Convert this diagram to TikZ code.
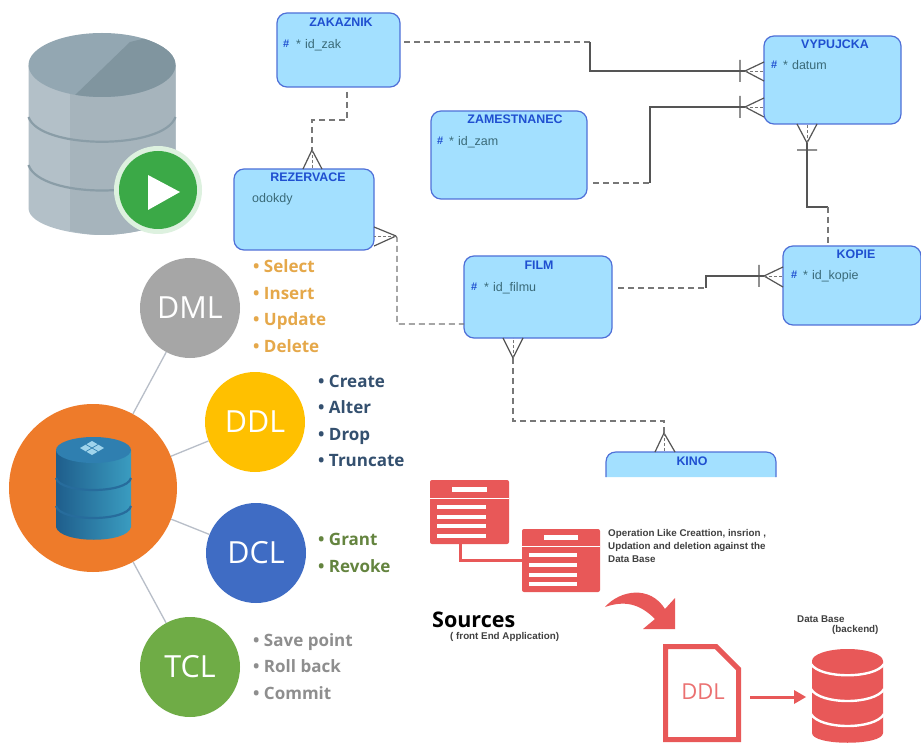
\documentclass[tikz,border=0pt]{standalone}
\usepackage{fontspec}
\setmainfont{Liberation Sans}
\newfontfamily\openf{Open Sans}
\usetikzlibrary{calc}
\definecolor{entfill}{HTML}{A3E0FF}
\definecolor{entline}{HTML}{4F70D8}
\definecolor{enttitle}{HTML}{1F4FD0}
\definecolor{enttext}{HTML}{3A6A78}
\definecolor{conn}{HTML}{555555}
\definecolor{redd}{HTML}{E85858}
\definecolor{gbodyL}{HTML}{B3C0C8}
\definecolor{gbodyR}{HTML}{A6B4BC}
\definecolor{gtopL}{HTML}{93A7B2}
\definecolor{gtopR}{HTML}{80959F}
\definecolor{gband}{HTML}{8A9DA7}
\definecolor{playg}{HTML}{3BA947}
\definecolor{playr}{HTML}{DDF1DF}
\definecolor{coreo}{HTML}{EE7B2A}
\definecolor{hubA}{HTML}{A6A6A6}
\definecolor{hubB}{HTML}{FFC000}
\definecolor{hubC}{HTML}{3F6CC4}
\definecolor{hubD}{HTML}{6FAC46}
\definecolor{spokec}{HTML}{B8BEC8}
\definecolor{dbL}{HTML}{1F5E8C}
\definecolor{dbR}{HTML}{3A9CC0}
\definecolor{dbT}{HTML}{2F7FB0}
\definecolor{dbB}{HTML}{276C9C}
\definecolor{dbI}{HTML}{9FD4EC}
\definecolor{itA}{HTML}{E5A84A}
\definecolor{itB}{HTML}{34506F}
\definecolor{itC}{HTML}{64843F}
\definecolor{itD}{HTML}{8E8E8E}
\tikzset{
 entity/.style={draw=entline,line width=1.2pt,fill=entfill,rounded corners=10pt,inner sep=0pt},
 etitle/.style={font=\bfseries\fontsize{12.4}{14}\selectfont,text=enttitle,inner sep=0pt},
 eattr/.style={font=\fontsize{12.5}{14}\selectfont,text=enttext,inner sep=0pt,anchor=base west},
 hash/.style={font=\bfseries\fontsize{11}{14}\selectfont,text=enttitle,inner sep=0pt,anchor=base west},
 dashl/.style={draw=conn!80,line width=1.2pt,dash pattern=on 6pt off 4pt},
 solidl/.style={draw=conn,line width=1.2pt},
 foot/.style={draw=conn,line width=1.2pt},
 footd/.style={draw=conn!80,line width=.8pt,dash pattern=on 3pt off 2pt},
 hub/.style={circle,minimum size=100pt,inner sep=0pt,text=white,font=\openf\fontsize{30.5}{33}\selectfont},
 spoke/.style={draw=spokec,line width=1.3pt},
 item/.style={anchor=base west,inner sep=0pt,font=\openf\bfseries\fontsize{17}{19}\selectfont},
 small/.style={anchor=base west,inner sep=0pt,font=\bfseries\fontsize{9.8}{13}\selectfont,text=black!75},
 wline/.style={fill=white,draw=none},
 redwin/.style={fill=redd,draw=none,rounded corners=2pt},
}
\begin{document}
\begin{tikzpicture}[x=1pt,y=-1pt]
\useasboundingbox[fill=white] (0,0) rectangle (921,743);
% ---- big grey database ----
\fill[gbodyL] (28.5,65) -- (175.5,65) -- (175.5,208) .. controls (175.5,226) and (130,235) .. (102,235) .. controls (74,235) and (28.5,226) .. (28.5,208) -- cycle;
\fill[gbodyR] (70,90) -- (175.5,65) -- (175.5,208) .. controls (175.5,226) and (130,235) .. (102,235) .. controls (90,235) and (80,233) .. (70,231) -- cycle;
\draw[gband,line width=2.2pt] (28.5,117) .. controls (40,150) and (164,150) .. (175.5,117);
\draw[gband,line width=2.2pt] (28.5,165) .. controls (40,199) and (164,199) .. (175.5,165);
\fill[gtopL] (102,65) ellipse [x radius=73.5,y radius=32];
\begin{scope}
\clip (102,65) ellipse [x radius=73.5,y radius=32];
\fill[gtopR] (72,98) -- (130,42) -- (180,30) -- (180,98) -- cycle;
\end{scope}
\node[circle,minimum size=88pt,inner sep=0pt,fill=playr,draw=none] (playring) at (158,190) {};
\node[circle,minimum size=78pt,inner sep=0pt,fill=playg,draw=none] (play) at (158,190) {};
\fill[white] (148,175) -- (180,192) -- (148,210) -- cycle;
% ---- hubs ----
\node[circle,minimum size=168pt,inner sep=0pt,fill=coreo] (core) at (93,488) {};
\node[hub,fill=hubA] (dml) at (190,308) {DML};
\node[hub,fill=hubB] (ddl) at (255,422) {DDL};
\node[hub,fill=hubC] (dcl) at (256,553) {DCL};
\node[hub,fill=hubD] (tcl) at (190,667) {TCL};
\draw[spoke] (core) -- (dml);
\draw[spoke] (core) -- (ddl);
\draw[spoke] (core) -- (dcl);
\draw[spoke] (core) -- (tcl);
% inner database
\shade[left color=dbL,right color=dbR] (56,450) -- (131,450) -- (131,527) .. controls (128,544) and (60,544) .. (56,527) -- cycle;
\draw[dbB,line width=2.2pt] (56,478) .. controls (60,494) and (127,494) .. (131,478);
\draw[dbB,line width=2.2pt] (56,506) .. controls (60,522) and (127,522) .. (131,506);
\fill[dbT] (93.5,450) ellipse [x radius=37.5,y radius=13];
\fill[dbI] (92,441) -- (104,448) -- (92,455) -- (80,448) -- cycle;
\draw[dbT,line width=.7pt] (86,444.5) -- (98,451.5) (98,444.5) -- (86,451.5);
% lists
\node[item,text=itA] (s1) at (253,273) {• Select};
\node[item,text=itA] (s2) at (253,299.5) {• Insert};
\node[item,text=itA] (s3) at (253,326) {• Update};
\node[item,text=itA] (s4) at (253,352.5) {• Delete};
\node[item,text=itB] (c1) at (318,387) {• Create};
\node[item,text=itB] (c2) at (318,413.5) {• Alter};
\node[item,text=itB] (c3) at (318,440) {• Drop};
\node[item,text=itB] (c4) at (318,466.5) {• Truncate};
\node[item,text=itC] (g1) at (318,545.5) {• Grant};
\node[item,text=itC] (g2) at (318,572) {• Revoke};
\node[item,text=itD] (v1) at (253,646) {• Save point};
\node[item,text=itD] (v2) at (253,672.5) {• Roll back};
\node[item,text=itD] (v3) at (253,699) {• Commit};
% ---- entities ----
\node[entity,minimum width=123pt,minimum height=74pt] (zak) at (338.5,50) {};
\node[entity,minimum width=140pt,minimum height=81pt] (rez) at (304,209.5) {};
\node[entity,minimum width=156pt,minimum height=88pt] (zam) at (509,155) {};
\node[entity,minimum width=137pt,minimum height=88pt] (vyp) at (832.5,80) {};
\node[entity,minimum width=138pt,minimum height=79pt] (kop) at (852,285.5) {};
\node[entity,minimum width=148pt,minimum height=82pt] (fil) at (538,297) {};
\path[fill=entfill,draw=none] (606,477) -- (606,462) .. controls (606,456) and (610,452) .. (616,452) -- (766,452) .. controls (772,452) and (776,456) .. (776,462) -- (776,477) -- cycle;
\draw[entline,line width=1.2pt] (606,477) -- (606,462) .. controls (606,456) and (610,452) .. (616,452) -- (766,452) .. controls (772,452) and (776,456) .. (776,462) -- (776,477);
\node[etitle] (tzak) at (341,22) {ZAKAZNIK};
\node[etitle] (trez) at (308,177) {REZERVACE};
\node[etitle] (tzam) at (515,119) {ZAMESTNANEC};
\node[etitle] (tvyp) at (835,44) {VYPUJCKA};
\node[etitle] (tkop) at (856,254) {KOPIE};
\node[etitle] (tfil) at (539,265) {FILM};
\node[etitle] (tkin) at (692,461) {KINO};
\node[hash] (hz) at (283,48) {\#}; \node[eattr] (az) at (296,49) {*\hspace{4pt}id\_zak};
\node[eattr] (ar) at (252,203) {odokdy};
\node[hash] (hm) at (437,145) {\#}; \node[eattr] (am) at (449,146) {*\hspace{4pt}id\_zam};
\node[hash] (hv) at (771,69) {\#}; \node[eattr] (av) at (783,70) {*\hspace{4pt}datum};
\node[hash] (hk) at (791,279) {\#}; \node[eattr] (ak) at (803,280) {*\hspace{4pt}id\_kopie};
\node[hash] (hf) at (471,291) {\#}; \node[eattr] (af) at (484,292) {*\hspace{4pt}id\_filmu};
% ---- connector points ----
\coordinate (zakE) at (404,42);
\coordinate (b1) at (590,42);
\coordinate (vf1) at (745,71);
\coordinate (zamE) at (593,183);
\coordinate (b2) at (650,183);
\coordinate (vf2) at (745,107);
\coordinate (vf3) at (807,143);
\coordinate (b3) at (828,207);
\coordinate (kopN) at (828,243);
\coordinate (filE) at (618,288);
\coordinate (b4) at (706,288);
\coordinate (kf) at (764,276);
\coordinate (zakS) at (347,92);
\coordinate (b5) at (347,120);
\coordinate (rf) at (312,150);
\coordinate (ff) at (396,236);
\coordinate (filW) at (464,324);
\coordinate (ffb) at (513,358);
\coordinate (b7) at (513,421);
\coordinate (kif) at (664,433);
% ---- connectors ----
\draw[dashl] (zakE) -- (b1);
\draw[solidl] (b1) |- (vf1);
\draw[dashl] (zamE) -- (b2);
\draw[solidl] (b2) |- (vf2);
\draw[solidl] (vf3) |- (b3);
\draw[dashl] (b3) -- (kopN);
\draw[dashl] (filE) -- (b4);
\draw[solidl] (b4) |- (kf);
\draw[dashl] (zakS) -- (b5) -| (rf);
\draw[dashl] (ff) -- ($(ff)+(1,2)$) |- (filW);
\draw[dashl] (ffb) -- (b7) -| (kif);
% crow's feet
\draw[foot] (vf1) -- ++(19,-9) (vf1) -- ++(19,10) (vf1) ++(-5,-11) -- ++(0,22);
\draw[footd] (vf1) -- ++(19,0);
\draw[foot] (vf2) -- ++(19,-9) (vf2) -- ++(19,10) (vf2) ++(-5,-11) -- ++(0,22);
\draw[footd] (vf2) -- ++(19,0);
\draw[foot] (vf3) -- ++(-10,-19) (vf3) -- ++(10,-19) (vf3) ++(-10,7) -- ++(20,0);
\draw[footd] (vf3) -- ++(0,-19);
\draw[foot] (kf) -- ++(19,-9) (kf) -- ++(19,11) (kf) ++(-5,-11) -- ++(0,22);
\draw[footd] (kf) -- ++(19,0);
\draw[foot] (rf) -- ++(-9,19) (rf) -- ++(10,19);
\draw[footd] (rf) -- ++(0,19);
\draw[foot] (ff) -- ++(-22,-9) (ff) -- ++(-22,10);
\draw[footd] (ff) -- ++(-22,0);
\draw[foot] (ffb) -- ++(-10,-20) (ffb) -- ++(10,-20);
\draw[footd] (ffb) -- ++(0,-20);
\draw[foot] (kif) -- ++(-9,19) (kif) -- ++(11,19);
\draw[footd] (kif) -- ++(0,19);
% ---- red sources ----
\node[redwin,minimum width=79pt,minimum height=64pt,inner sep=0pt] (w1) at (469.5,512) {};
\node[redwin,minimum width=78pt,minimum height=63pt,inner sep=0pt] (w2) at (561,560.5) {};
\draw[redd,line width=3.5pt] (w1.south) ++(-9,0) |- (w2.west);
\fill[wline] (452,487) rectangle (487,492);
\fill[wline] (430,497.5) rectangle (509,499);
\foreach \yy in {507,516.5,526,535.5} \fill[wline] (437,\yy-2) rectangle (486,\yy+2);
\fill[wline] (544,535) rectangle (578,540);
\fill[wline] (522,545.5) rectangle (600,547);
\foreach \yy in {555,565,574.5,584} \fill[wline] (529,\yy-2) rectangle (577,\yy+2);
\fill[redd] (605,607) .. controls (620,590) and (650,585) .. (665,609) -- (675,598) -- (675,629) -- (643,629) -- (655,619) .. controls (640,604) and (625,600) .. (605,607) -- cycle;
\node[small] (opt) at (608,536.5) {Operation Like Creattion, insrion ,};
\node[small] (opt2) at (608,549.5) {Updation and deletion against the};
\node[small] (opt3) at (608,562.5) {Data Base};
\node[anchor=base west,inner sep=0pt,font=\openf\bfseries\fontsize{21.5}{24}\selectfont,text=black] (src) at (432,627) {Sources};
\node[small] (src2) at (450,639.5) {( front End Application)};
\node[small] (dbb) at (797,622.5) {Data Base};
\node[small] (dbb2) at (832,632.5) {(backend)};
% document
\path[draw=redd,line width=5pt,fill=white,miter limit=6] (665.5,646.5) -- (716,646.5) -- (738.5,669) -- (738.5,739.5) -- (665.5,739.5) -- cycle;
\node[inner sep=0pt,text=redd!85!white,font=\openf\fontsize{22}{24}\selectfont] (doc) at (703,692) {DDL};
% database
\coordinate (docE) at (750,697);
\coordinate (dbW) at (806,697);
\draw[redd,line width=3pt] (docE) -- ($(dbW)+(-10,0)$);
\fill[redd] (dbW) -- ++(-12,-7) -- ++(0,14) -- cycle;
\begin{scope}
\clip (0,0) rectangle (921,743);
\fill[redd] (812,661) -- (883,661) -- (883,733) .. controls (883,746) and (812,746) .. (812,733) -- cycle;
\fill[redd] (847.5,661) ellipse [x radius=35.5,y radius=12];
\draw[white,line width=2.4pt] (811,664) .. controls (820,679) and (875,679) .. (884,664);
\draw[white,line width=2.4pt] (811,689) .. controls (820,705) and (875,705) .. (884,689);
\draw[white,line width=2.4pt] (811,714) .. controls (820,730) and (875,730) .. (884,714);
\end{scope}
\end{tikzpicture}
\end{document}
